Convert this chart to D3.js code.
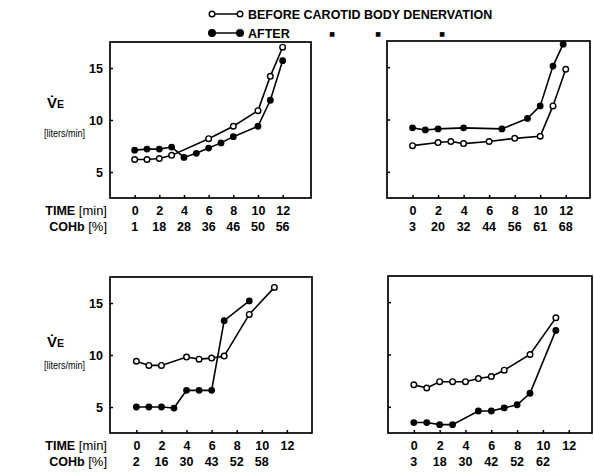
<!DOCTYPE html>
<html>
<head>
<meta charset="utf-8">
<script src="https://cdn.jsdelivr.net/npm/d3@7"></script>
<style>
  body { margin: 0; background: #fff; }
  text { font-family: "Liberation Sans", Arial, sans-serif; fill: #000; }
</style>
</head>
<body>
<div id="chart"></div>
<script>
// Data
const timeTicks = [0, 2, 4, 6, 8, 10, 12];
const veTicks = [5, 10, 15];

// panel A (top left)
const aBeforeTime = [0, 1, 2, 3, 6, 8, 10, 11, 12];
const aBefore     = [6.2, 6.2, 6.3, 6.6, 8.2, 9.4, 10.9, 14.2, 17.0];
const aAfterTime  = [0, 1, 2, 3, 4, 5, 6, 7, 8, 10, 11, 12];
const aAfter      = [7.1, 7.2, 7.2, 7.4, 6.4, 6.8, 7.3, 7.8, 8.4, 9.4, 11.9, 15.7];
const aCOHb       = ["1", "18", "28", "36", "46", "50", "56"];

// panel B (top right)
const bBeforeTime = [0, 2, 3, 4, 6, 8, 10, 11, 12];
const bBefore     = [7.5, 7.8, 7.9, 7.7, 7.9, 8.2, 8.4, 11.3, 14.8];
const bAfterTime  = [0, 1, 2, 4, 7, 9, 10, 11, 11.8];
const bAfter      = [9.2, 9.0, 9.1, 9.2, 9.1, 10.1, 11.3, 15.1, 17.2];
const bCOHb       = ["3", "20", "32", "44", "56", "61", "68"];

// panel C (bottom left)
const cBeforeTime = [0, 1, 2, 4, 5, 6, 7, 9, 11];
const cBefore     = [9.4, 9.0, 9.0, 9.8, 9.6, 9.7, 9.9, 13.9, 16.5];
const cAfterTime  = [0, 1, 2, 3, 4, 5, 6, 7, 9];
const cAfter      = [5.0, 5.0, 5.0, 4.9, 6.6, 6.6, 6.6, 13.3, 15.2];
const cCOHb       = ["2", "16", "30", "43", "52", "58"];

// panel D (bottom right)
const dBeforeTime = [0, 1, 2, 3, 4, 5, 6, 7, 9, 11];
const dBefore     = [7.1, 6.8, 7.4, 7.4, 7.4, 7.7, 7.9, 8.5, 10.0, 13.5];
const dAfterTime  = [0, 1, 2, 3, 5, 6, 7, 8, 9, 11];
const dAfter      = [3.5, 3.5, 3.3, 3.3, 4.6, 4.6, 4.9, 5.2, 6.3, 12.3];
const dCOHb       = ["3", "18", "30", "42", "52", "62"];

// Panels: data + frame position
const panels = [
  {before: [aBeforeTime, aBefore], after: [aAfterTime, aAfter], cohb: aCOHb,
   box: {l: 110, t: 42, r: 311, b: 198}, xDom: [-2, 14.3], left: true, yLab: [108, 137]},
  {before: [bBeforeTime, bBefore], after: [bAfterTime, bAfter], cohb: bCOHb,
   box: {l: 387, t: 41, r: 590, b: 198}, xDom: [-2, 13.9], left: false},
  {before: [cBeforeTime, cBefore], after: [cAfterTime, cAfter], cohb: cCOHb,
   box: {l: 110, t: 277, r: 312, b: 433}, xDom: [-2.1, 14], left: true, yLab: [347, 369]},
  {before: [dBeforeTime, dBefore], after: [dAfterTime, dAfter], cohb: dCOHb,
   box: {l: 388, t: 276, r: 592, b: 433}, xDom: [-2, 13.8], left: false}
];

const svg = d3.select('#chart').append('svg')
  .attr('width', 594)
  .attr('height', 473);

const zip = (xs, ys) => xs.map((x, i) => ({t: x, v: ys[i]}));

panels.forEach(p => {
  const bx = p.box;
  const x = d3.scaleLinear().domain(p.xDom).range([bx.l, bx.r]);
  const y = d3.scaleLinear().domain([2.5, 17.5]).range([bx.b, bx.t]);
  const g = svg.append('g');

  // frame
  g.append('rect')
    .attr('x', bx.l).attr('y', bx.t)
    .attr('width', bx.r - bx.l).attr('height', bx.b - bx.t)
    .attr('fill', 'none').attr('stroke', '#000').attr('stroke-width', 1.7);

  // y axis (inward ticks)
  const yAxis = g.append('g')
    .attr('transform', `translate(${bx.l},0)`)
    .call(d3.axisLeft(y).tickValues(veTicks).tickSize(-3).tickPadding(7)
      .tickFormat(p.left ? d3.format('d') : () => ''));
  yAxis.select('.domain').remove();
  yAxis.selectAll('line').attr('stroke-width', 1.5);
  yAxis.selectAll('text')
    .style('font-family', '"Liberation Sans", Arial, sans-serif')
    .style('font-size', '12.5px').style('font-weight', 'bold');

  // x axis: time row
  const xAxis = g.append('g')
    .attr('transform', `translate(0,${bx.b})`)
    .call(d3.axisBottom(x).tickValues(timeTicks).tickSize(-3).tickPadding(8));
  xAxis.select('.domain').remove();
  xAxis.selectAll('line').attr('stroke-width', 1.5);
  xAxis.selectAll('text')
    .style('font-family', '"Liberation Sans", Arial, sans-serif')
    .style('font-size', '12.5px').style('font-weight', 'bold');

  // COHb row
  g.append('g').selectAll('text')
    .data(p.cohb)
    .join('text')
      .attr('x', (d, i) => x(timeTicks[i]))
      .attr('y', bx.b + 24)
      .attr('dy', '0.71em')
      .attr('text-anchor', 'middle')
      .style('font-size', '12.5px').style('font-weight', 'bold')
      .text(d => d);

  // series lines
  const line = d3.line().x(d => x(d.t)).y(d => y(d.v));
  const after = zip(p.after[0], p.after[1]);
  const before = zip(p.before[0], p.before[1]);
  [after, before].forEach(s => {
    g.append('path').datum(s)
      .attr('d', line)
      .attr('fill', 'none').attr('stroke', '#000').attr('stroke-width', 1.6);
  });
  g.append('g').selectAll('circle').data(after).join('circle')
    .attr('cx', d => x(d.t)).attr('cy', d => y(d.v)).attr('r', 3.4)
    .attr('fill', '#000');
  g.append('g').selectAll('circle').data(before).join('circle')
    .attr('cx', d => x(d.t)).attr('cy', d => y(d.v)).attr('r', 2.8)
    .attr('fill', '#fff').attr('stroke', '#000').attr('stroke-width', 1.4);

  if (p.left) {
    // row labels
    const rowLab = (yy, bold, light) => {
      const t = g.append('text')
        .attr('x', 107).attr('y', yy).attr('dy', '0.71em')
        .attr('text-anchor', 'end').style('font-size', '12.5px');
      t.append('tspan').style('font-weight', 'bold').text(bold);
      t.append('tspan').style('font-weight', 'normal').style('font-size', '13px').text(light);
    };
    rowLab(bx.b + 8, 'TIME', ' [min]');
    rowLab(bx.b + 24, 'COHb', ' [%]');

    // y label: V-dot E
    const ve = g.append('text')
      .attr('x', 47).attr('y', p.yLab[0])
      .style('font-size', '15px').style('font-weight', 'bold');
    ve.append('tspan').text('V\u0307');
    ve.append('tspan').style('font-size', '10.5px').text('E');
    g.append('text')
      .attr('x', 44).attr('y', p.yLab[1])
      .attr('textLength', 41).attr('lengthAdjust', 'spacingAndGlyphs')
      .style('font-size', '11px')
      .text('[liters/min]');
  }
});

// Legend
const legend = svg.append('g').attr('class', 'legend');
const legRows = [
  {y: 14, fill: '#fff', r: 2.8, label: 'BEFORE CAROTID BODY DENERVATION'},
  {y: 33, fill: '#000', r: 3.3, label: 'AFTER'}
];
legRows.forEach(row => {
  legend.append('line')
    .attr('x1', 212).attr('x2', 240).attr('y1', row.y).attr('y2', row.y)
    .attr('stroke', '#000').attr('stroke-width', 1.5);
  [212, 240].forEach(cx => legend.append('circle')
    .attr('cx', cx).attr('cy', row.y).attr('r', row.r)
    .attr('fill', row.fill).attr('stroke', '#000').attr('stroke-width', 1.4));
  legend.append('text')
    .attr('x', 248).attr('y', row.y + 4.5)
    .style('font-size', '12.5px').style('font-weight', 'bold')
    .text(row.label);
});
// ditto marks
[332, 378, 442].forEach(xx => legend.append('text')
  .attr('x', xx).attr('y', 35.5).attr('text-anchor', 'middle')
  .style('font-family', '"DejaVu Sans", sans-serif')
  .style('font-size', '6px')
  .text('\u25A0'));
</script>
</body>
</html>
